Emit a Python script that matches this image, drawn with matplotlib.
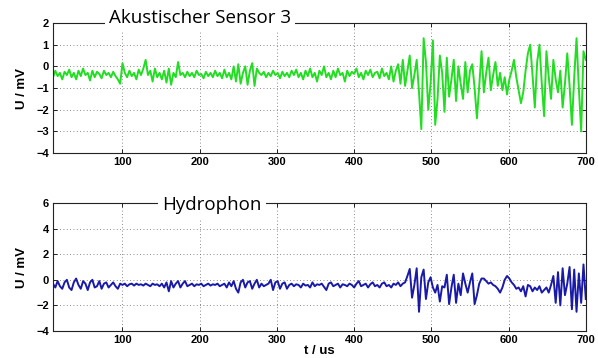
import matplotlib
matplotlib.use("Agg")
import matplotlib.pyplot as plt
import numpy as np

# sample grid: 10 us .. 700 us, every 3 us
t_start = 10
t_step = 3

# Akustischer Sensor 3 (mV)
sensor_mv = [
    -0.5, -0.2, -0.45, -0.3, -0.6, -0.25, -0.4, -0.15, -0.5, -0.3,
    -0.6, -0.2, -0.45, -0.1, -0.4, -0.3, -0.65, -0.2, -0.5, -0.25,
    -0.35, -0.55, -0.2, -0.4, -0.3, -0.5, -0.25, -0.45, -0.6, -0.8,
    0.15, -0.3, -0.5, -0.2, -0.45, -0.3, -0.6, -0.15, -0.4, -0.1,
    0.3, -0.4, -0.2, -0.7, -0.1, -0.5, -0.3, -0.6, -0.2, -0.75,
    -0.1, -0.85, -0.3, -0.5, 0.2, -0.4, -0.3, -0.5, -0.25, -0.45,
    -0.3, -0.5, -0.2, -0.4, -0.35, -0.55, -0.25, -0.45, -0.3, -0.5,
    -0.2, -0.45, -0.3, -0.55, -0.15, -0.5, -0.3, -0.6, 0.0, -0.7,
    0.1, -0.8, -0.3, 0.0, -0.85, -0.2, 0.15, -0.9, -0.1, -0.3,
    -0.4, -0.25, -0.5, -0.3, -0.45, -0.2, -0.4, -0.3, -0.55, -0.25,
    -0.45, -0.3, -0.5, -0.2, -0.4, -0.15, -0.5, -0.3, -0.6, -0.2,
    -0.45, -0.1, -0.5, -0.3, -0.7, -0.2, -0.4, 0.0, -0.5, -0.3,
    -0.6, -0.2, -0.5, -0.1, -0.4, -0.3, -0.7, -0.2, -0.45, -0.25,
    -0.35, -0.1, -0.5, -0.3, -0.6, -0.2, -0.4, -0.15, -0.5, -0.3,
    -0.25, -0.55, -0.1, -0.45, -0.3, -0.6, 0.0, -0.7, -0.2, 0.1,
    -0.8, 0.3, -0.9, -0.2, 0.5, -1.0, -0.4, 0.3, -1.2, -2.9,
    1.3, 0.2, -2.0, -0.8, 1.2, -2.7, -1.5, 0.5, -0.3, -2.1,
    0.4, -1.4, -0.6, 0.3, -1.6, 0.0, -0.8, -1.5, 0.2, -1.2,
    -0.2, 0.1, -1.0, -2.4, -0.9, 0.7, -1.2, -0.3, 0.4, -1.1,
    -0.4, 0.2, -0.9, -0.3, -1.1, -0.5, -1.3, -0.6, -0.2, 0.3,
    -0.5, -1.1, -1.7, -1.2, -0.2, 0.6, 1.0, -0.4, -1.9, 0.2,
    1.0, -0.8, -2.3, 0.7, -0.5, -1.5, 0.3, -0.6, -1.2, -0.2,
    -1.9, -0.8, 0.6, -0.9, -2.7, -0.5, 1.3, -1.0, -3.0, 0.7,
    0.3,
]

# Hydrophon (mV)
hydro_mv = [
    -0.3, -0.6, -0.1, -0.5, -0.7, -0.2, 0.0, -0.6, -0.8, -0.2,
    0.1, -0.4, -0.7, -0.1, -0.3, -0.8, -0.2, 0.0, -0.6, -0.5,
    -0.1, -0.7, -0.3, -0.2, -0.6, -0.4, -0.2, -0.5, -0.7, -0.3,
    -0.4, -0.3, -0.5, -0.35, -0.3, -0.45, -0.3, -0.4, -0.35, -0.45,
    -0.3, -0.4, -0.5, -0.3, -0.4, -0.35, -0.5, -0.3, -0.6, -0.2,
    -0.9, -0.1, -0.6, -0.3, -0.1, -0.6, -0.3, -0.1, -0.5, -0.4,
    -0.3, -0.5, -0.35, -0.4, -0.3, -0.5, -0.4, -0.3, -0.45, -0.35,
    -0.4, -0.3, -0.5, -0.4, -0.3, -0.6, -0.2, -0.5, -0.1, -0.7,
    -1.0, -0.2, 0.0, -0.6, -0.2, -0.1, -0.7, -0.3, 0.0, -0.6,
    -0.3, -0.5, -0.4, -0.3, 0.0, -0.8, -0.2, -0.1, -0.7, -0.3,
    -0.2, -0.7, -0.4, -0.3, -0.5, -0.35, -0.4, -0.6, -0.3, -0.45,
    -0.4, -0.6, -0.2, -0.5, -0.35, -0.4, -0.3, -0.55, -0.8, -0.3,
    -0.2, -0.5, -0.4, -0.3, -0.6, -0.35, -0.4, -0.5, -0.3, -0.4,
    -0.6, -0.3, -0.1, -0.5, -0.4, -0.3, -0.6, -0.35, -0.2, -0.5,
    -0.4, -0.6, -0.3, -0.2, -0.5, -0.4, -0.6, -0.3, -0.4, -0.2,
    -0.5, -0.3, -0.2, 0.3, 0.85, -1.4, -0.4, 0.9, -2.5, 0.2,
    0.8, -1.5, -0.2, 0.2, -0.6, -1.0, -0.4, -1.7, -0.5, -0.6,
    0.4, -1.9, -0.6, 0.4, -1.8, -0.3, -1.2, 0.5, -0.3, -1.0,
    -0.2, 0.5, -1.9, -1.2, -0.3, 0.1, 0.1, -0.1, -0.3, -0.2,
    -0.4, -0.5, -0.7, -1.0, -0.6, 0.0, 0.3, 0.1, -0.2, -0.4,
    -0.7, -0.6, -0.9, -0.5, -1.3, -0.4, -0.5, -0.9, -0.6, -0.8,
    -0.5, -1.0, -0.8, -0.6, -1.0, -0.4, 0.3, -1.8, 0.6, -2.0,
    0.9, -1.2, -0.3, 1.0, -2.3, 0.8, -2.5, 0.5, -1.8, 1.2,
    -1.5,
]

t_us = t_start + t_step * np.arange(len(sensor_mv))

tick_font = dict(family="Liberation Sans", weight="bold", size=8)
label_font = dict(family="Liberation Sans", weight="bold", size=9.5)


def style_axes(ax, ylim, yticks):
    ax.set_xlim(10, 700)
    ax.set_ylim(*ylim)
    ax.set_xticks([100, 200, 300, 400, 500, 600, 700])
    ax.set_yticks(yticks)
    ax.grid(True, color="#666666", linestyle=(0, (1, 3)), linewidth=0.6)
    ax.tick_params(direction="in", length=3, width=0.6, top=True, right=True, pad=3)
    for lab in ax.get_xticklabels() + ax.get_yticklabels():
        lab.set_fontproperties(tick_font)
    for s in ax.spines.values():
        s.set_linewidth(0.8)
        s.set_color("#222222")
    ax.set_ylabel("U / mV", fontdict=label_font, labelpad=6)


fig = plt.figure(figsize=(5.98, 3.58), dpi=100)

ax1 = fig.add_axes([0.0886, 0.5726, 0.891, 0.363])
ax1.plot(t_us, sensor_mv, color="#22dd22", linewidth=1.4)
style_axes(ax1, (-4, 2), [-4, -3, -2, -1, 0, 1, 2])

ax2 = fig.add_axes([0.0886, 0.0754, 0.891, 0.3575])
ax2.plot(t_us, hydro_mv, color="#1a1aa8", linewidth=1.4)
style_axes(ax2, (-4, 6), [-4, -2, 0, 2, 4, 6])
ax2.set_xlabel("t / us", fontdict=label_font, labelpad=0)

# white label boxes sitting on the top spines
fig.text(0.3345, 0.950, "Akustischer Sensor 3", family="Open Sans", size=13.5,
         ha="center", va="center",
         bbox=dict(facecolor="white", edgecolor="none", pad=3))
fig.text(0.355, 0.426, "Hydrophon", family="Open Sans", size=13.5,
         ha="center", va="center",
         bbox=dict(facecolor="white", edgecolor="none", pad=3))

fig.savefig("out.png", dpi=100)
